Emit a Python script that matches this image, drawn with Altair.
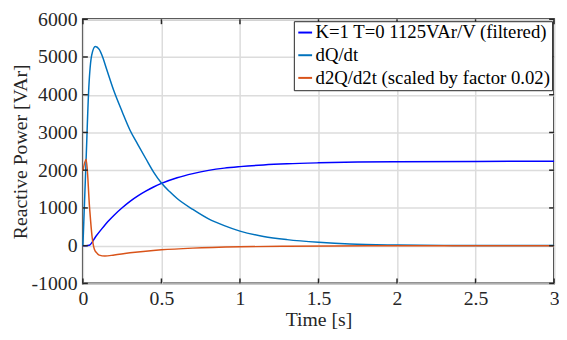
import altair as alt
import pandas as pd

# --- data ---
t_filt = [0, 0.02, 0.04, 0.083, 0.12, 0.167, 0.2, 0.25, 0.3, 0.35, 0.4, 0.45, 0.5, 0.6, 0.7,
          0.8, 0.9, 1.0, 1.15, 1.3, 1.5, 1.75, 2.0, 2.5, 3.0]
q_filt = [0, 0, 10, 250, 445, 675, 815, 1005, 1175, 1320, 1445, 1555, 1650, 1800, 1910,
          1995, 2055, 2095, 2140, 2170, 2195, 2215, 2225, 2233, 2238]

t_dq = [0, 0.02, 0.0375, 0.056, 0.079, 0.104, 0.125, 0.15, 0.2, 0.25, 0.3, 0.35, 0.4, 0.45,
        0.5, 0.55, 0.6, 0.7, 0.8, 0.9, 1.0, 1.15, 1.3, 1.5, 1.7, 2.0, 2.3, 2.6, 3.0]
q_dq = [0, 2250, 4185, 5050, 5280, 5200, 5005, 4690, 4070, 3550, 3060, 2680, 2310, 1950,
        1660, 1440, 1250, 960, 710, 530, 385, 245, 160, 88, 42, 18, 8, 4, 2]

t_d2q = [0, 0.021, 0.042, 0.058, 0.073, 0.09, 0.104, 0.14, 0.2, 0.3, 0.4, 0.5, 0.7, 1.0,
         1.3, 1.6, 2.0, 2.5, 3.0]
q_d2q = [1980, 2290, 1030, 250, -95, -200, -250, -275, -245, -190, -145, -110, -65, -30,
         -15, -7, -3, -1, 0]

labels = ["K=1 T=0 1125VAr/V (filtered)", "dQ/dt", "d2Q/d2t (scaled by factor 0.02)"]
colors = ["#0000FF", "#0072BD", "#D95319"]

x_ticks = [0, 0.5, 1, 1.5, 2, 2.5, 3]
y_ticks = [-1000, 0, 1000, 2000, 3000, 4000, 5000, 6000]

rows = []
for lab, ts, qs in zip(labels, [t_filt, t_dq, t_d2q], [q_filt, q_dq, q_d2q]):
    for i, (t, q) in enumerate(zip(ts, qs)):
        rows.append({"t": t, "q": q, "series": lab, "i": i})
df = pd.DataFrame(rows)

W, H = 478, 268
FONT = "Liberation Serif"
TXT = "#262626"

xscale = alt.Scale(domain=[0, 3], nice=False, zero=False)
yscale = alt.Scale(domain=[-1000, 6000], nice=False)

common_axis = dict(grid=True, ticks=False, domain=False, labelOverlap=False, labelFlush=False,
                   labelFont=FONT, labelFontSize=20, labelColor=TXT,
                   titleFont=FONT, titleFontSize=20, titleColor=TXT, titleFontWeight="normal",
                   gridColor="#dcdcdc", gridWidth=1.5)
x_axis = alt.Axis(title="Time [s]", values=x_ticks, format="~g",
                  labelPadding=5, titlePadding=2, **common_axis)
y_axis = alt.Axis(title="Reactive Power [VAr]", values=y_ticks,
                  labelExpr="datum.value < 0 ? '-' + abs(datum.value) : '' + datum.value",
                  labelPadding=6, titlePadding=1, **common_axis)

lines = alt.Chart(df).mark_line(strokeWidth=1.5, interpolate="monotone").encode(
    x=alt.X("t:Q", scale=xscale, axis=x_axis),
    y=alt.Y("q:Q", scale=yscale, axis=y_axis),
    color=alt.Color("series:N", scale=alt.Scale(domain=labels, range=colors),
                    legend=alt.Legend(title=None, orient="none", legendX=214, legendY=2)),
    order="i:Q",
)

xt = pd.DataFrame({"t": x_ticks})
yt = pd.DataFrame({"q": y_ticks})
tick_color = "#262626"
xb = alt.Chart(xt).mark_rule(color=tick_color, strokeWidth=1.5).encode(
    x=alt.X("t:Q", scale=xscale, axis=x_axis), y=alt.value(H), y2=alt.value(H - 5))
xtp = alt.Chart(xt).mark_rule(color=tick_color, strokeWidth=1.5).encode(
    x=alt.X("t:Q", scale=xscale, axis=x_axis), y=alt.value(0), y2=alt.value(5))
yl = alt.Chart(yt).mark_rule(color=tick_color, strokeWidth=1.5).encode(
    y=alt.Y("q:Q", scale=yscale, axis=y_axis), x=alt.value(0), x2=alt.value(5))
yr = alt.Chart(yt).mark_rule(color=tick_color, strokeWidth=1.5).encode(
    y=alt.Y("q:Q", scale=yscale, axis=y_axis), x=alt.value(W), x2=alt.value(W - 5))

chart = alt.layer(lines, xb, xtp, yl, yr).properties(
    width=W, height=H,
    autosize=alt.AutoSizeParams(type="none"),
    padding={"left": 76, "top": 9, "right": 5, "bottom": 55},
    background="white",
).configure(
    font=FONT
).configure_view(
    stroke=TXT, strokeWidth=2
).configure_axis(
    labelFont=FONT, titleFont=FONT,
).configure_legend(
    fillColor="white", strokeColor=TXT, strokeWidth=1, padding=2,
    labelFont=FONT, labelFontSize=19, labelColor="#000000", labelLimit=0,
    symbolType="stroke", symbolStrokeWidth=2, symbolSize=196, rowPadding=3,
    labelOffset=1,
)

chart.save("out.html", embed_options={"renderer": "svg", "actions": False})
